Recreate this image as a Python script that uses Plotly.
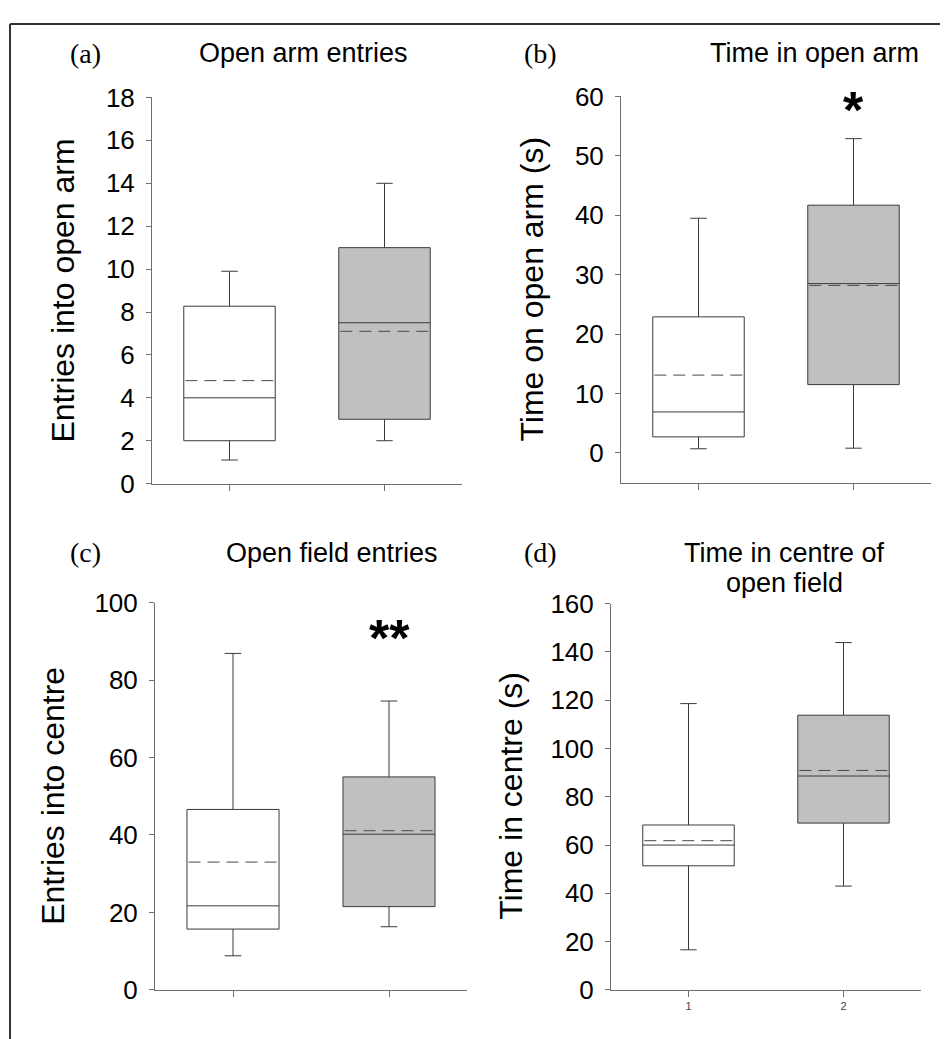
import plotly.graph_objects as go

# ---------------- data ----------------
groups = [1, 2]
group_tick_labels = ["1", "2"]

a_low = [1.1, 2.0]
a_q1 = [2.0, 3.0]
a_med = [4.0, 7.5]
a_mean = [4.8, 7.1]
a_q3 = [8.27, 11.0]
a_high = [9.9, 14.0]

b_low = [0.7, 0.8]
b_q1 = [2.7, 11.5]
b_med = [6.9, 28.5]
b_mean = [13.1, 28.2]
b_q3 = [22.9, 41.7]
b_high = [39.5, 52.9]

c_low = [8.8, 16.3]
c_q1 = [15.7, 21.5]
c_med = [21.7, 40.2]
c_mean = [33.0, 41.1]
c_q3 = [46.6, 55.0]
c_high = [86.9, 74.6]

d_low = [16.6, 43.0]
d_q1 = [51.4, 69.1]
d_med = [60.0, 88.6]
d_mean = [61.8, 90.9]
d_q3 = [68.3, 113.8]
d_high = [118.6, 143.9]

panel_letters = ["(a)", "(b)", "(c)", "(d)"]
panel_titles = [["Open arm entries"], ["Time in open arm"], ["Open field entries"],
                ["Time in centre of", "open field"]]
y_titles = ["Entries into open arm", "Time on open arm (s)", "Entries into centre",
            "Time in centre (s)"]
significance = ["", "*", "**", ""]

# ---------------- layout helpers ----------------
W, H = 940, 1050
OFF = 8            # page body margin
VS, VO = 0.971, 14.8   # vertical scale / offset of the rendered snapshot


def px(x):
    return (x - OFF) / W


def py(y):
    page = (y - VO) / VS
    return 1 - (page - OFF) / H


SANS = "Arial, Liberation Sans, sans-serif"
SERIF = "Times New Roman, Liberation Serif, serif"
LINE = "#3a3a3a"
AXIS = "#707070"
FILLS = ["#ffffff", "#c0c0c0"]
BOXW = 0.59

panels = [
    dict(data=(a_low, a_q1, a_med, a_mean, a_q3, a_high), xd=(152, 462), yd=(97, 483),
         yr=[0, 18], dt=2, ylab=(63, 290), tit=[(303, 53)], let=(85, 53), star=109),
    dict(data=(b_low, b_q1, b_med, b_mean, b_q3, b_high), xd=(621, 931), yd=(96, 482),
         yr=[-5, 60], dt=10, ylab=(532, 289), tit=[(814, 53)], let=(540, 53), star=110),
    dict(data=(c_low, c_q1, c_med, c_mean, c_q3, c_high), xd=(155, 467), yd=(602, 989),
         yr=[0, 100], dt=20, ylab=(53, 795), tit=[(332, 552)], let=(85, 552), star=637),
    dict(data=(d_low, d_q1, d_med, d_mean, d_q3, d_high), xd=(611, 921), yd=(603, 989),
         yr=[0, 160], dt=20, ylab=(511, 795), tit=[(784, 552), (784, 582)], let=(540, 552),
         star=0),
]

fig = go.Figure()
annotations = []

for i, p in enumerate(panels):
    n = "" if i == 0 else str(i + 1)
    xa, ya = "x" + n, "y" + n
    low, q1, med, mean, q3, high = p["data"]
    for g in range(len(groups)):
        fig.add_trace(go.Box(
            x=[groups[g]], q1=[q1[g]], median=[med[g]], q3=[q3[g]],
            lowerfence=[low[g]], upperfence=[high[g]],
            width=BOXW, whiskerwidth=0.18, boxpoints=False,
            fillcolor=FILLS[g], line=dict(color=LINE, width=1),
            xaxis=xa, yaxis=ya, showlegend=False, hoverinfo="skip"))
        fig.add_trace(go.Scatter(
            x=[groups[g] - BOXW / 2 + 0.01, groups[g] + BOXW / 2 - 0.01],
            y=[mean[g], mean[g]], mode="lines",
            line=dict(color="#484848", width=1, dash="12px,7px"),
            xaxis=xa, yaxis=ya, showlegend=False, hoverinfo="skip"))

    x0, x1 = p["xd"]
    y0, y1 = p["yd"]
    fig.layout["xaxis" + n] = dict(
        domain=[px(x0), px(x1)], anchor=ya, range=[0.5, 2.5],
        tickvals=groups, ticktext=group_tick_labels if i == 3 else ["", ""],
        ticks="outside", ticklen=6, tickcolor=AXIS, showline=True, linecolor=AXIS,
        linewidth=1, showgrid=False, zeroline=False,
        tickfont=dict(family=SANS, size=11, color="#444"))
    fig.layout["yaxis" + n] = dict(
        domain=[py(y1), py(y0)], anchor=xa, range=p["yr"], dtick=p["dt"],
        tick0=0, ticks="outside", ticklen=5, tickcolor=AXIS, showline=True,
        linecolor=AXIS, linewidth=1, showgrid=False, zeroline=False,
        ticklabelstandoff=6,
        tickfont=dict(family=SANS, size=26, color="#000"))

    annotations.append(dict(
        text=y_titles[i], textangle=-90, x=px(p["ylab"][0]), y=py(p["ylab"][1]),
        xref="paper", yref="paper", xanchor="center", yanchor="middle",
        showarrow=False, font=dict(family=SANS, size=32, color="#000")))
    for line_text, (tx, ty) in zip(panel_titles[i], p["tit"]):
        annotations.append(dict(
            text=line_text, x=px(tx), y=py(ty),
            xref="paper", yref="paper", xanchor="center", yanchor="middle",
            showarrow=False, font=dict(family=SANS, size=27, color="#000")))
    annotations.append(dict(
        text=panel_letters[i], x=px(p["let"][0]), y=py(p["let"][1]),
        xref="paper", yref="paper", xanchor="center", yanchor="middle",
        showarrow=False, font=dict(family=SERIF, size=28, color="#000")))
    if significance[i]:
        annotations.append(dict(
            text="<b>" + significance[i] + "</b>", x=groups[1], y=py(p["star"]),
            xref=xa, yref="paper", xanchor="center", yanchor="middle",
            showarrow=False, font=dict(family=SANS, size=52, color="#000")))

top = 1 - 1 / H
shapes = [
    dict(type="line", xref="paper", yref="paper", x0=px(10), x1=1, y0=top, y1=top,
         line=dict(color="#333", width=2)),
    dict(type="line", xref="paper", yref="paper", x0=px(10), x1=px(10), y0=top, y1=0,
         line=dict(color="#333", width=2)),
]

fig.update_layout(
    width=W, height=H, margin=dict(l=0, r=0, t=0, b=0),
    paper_bgcolor="white", plot_bgcolor="white",
    annotations=annotations, shapes=shapes, showlegend=False)

fig.write_html("out.html")
